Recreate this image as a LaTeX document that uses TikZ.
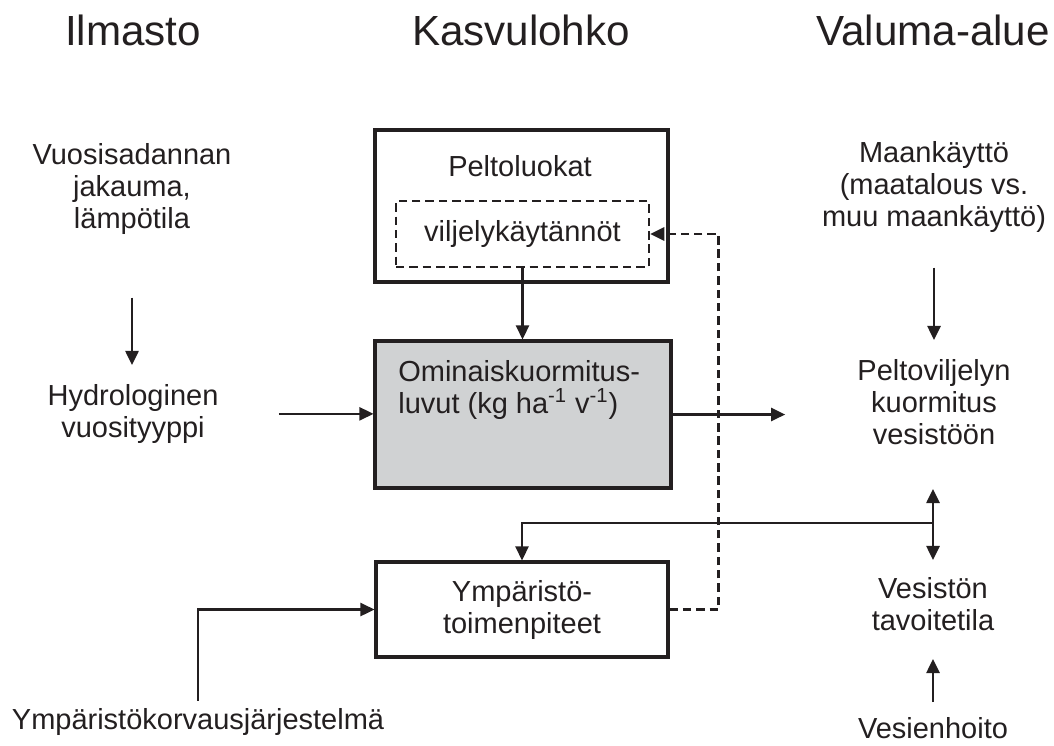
\documentclass[tikz,border=0pt]{standalone}
\usepackage{fontspec}
\setmainfont{Liberation Sans}
\usetikzlibrary{arrows.meta}
\usepackage{xcolor}
\definecolor{boxgray}{RGB}{208,210,211}
\definecolor{ink}{RGB}{35,31,32}

\begin{document}
\begin{tikzpicture}[x=0.02cm, y=-0.02cm,
    every node/.style={inner sep=0pt, text=ink, align=center, font=\fontsize{16.5}{18.2}\selectfont},
    head/.style={anchor=base, font=\fontsize{24}{28}\selectfont},
    txt/.style={anchor=north},
    box/.style={draw=ink, line width=1.8pt},
    dashbox/.style={draw=ink, line width=1.4pt, dash pattern=on 4.8pt off 2.8pt},
    arr/.style={draw=ink, line width=1.2pt, -{Triangle[length=8pt, width=7.5pt]}}]
    \useasboundingbox (0,0) rectangle (1054,745);
    \node[head] (0) at (133,45) {Ilmasto};
    \node[head] (1) at (521,45) {Kasvulohko};
    \node[head] (2) at (933,45) {Valuma-alue};
    \node[txt] (3) at (132,143) {Vuosisadannan\\jakauma,\\lämpötila};
    \node[txt] (4) at (133,384) {Hydrologinen\\vuosityyppi};
    \node[box, minimum width=5.86cm, minimum height=3.04cm] (5) at (521.5,206) {};
    \node[txt] (6) at (520,155) {Peltoluokat};
    \node[dashbox, minimum width=5.06cm, minimum height=1.32cm] (7) at (522.5,234) {viljelykäytännöt};
    \node[box, fill=boxgray, minimum width=5.92cm, minimum height=2.94cm] (8) at (523,414.5) {};
    \node[anchor=north west, align=left] (9) at (398,360) {Ominaiskuormitus-\\luvut (kg ha\textsuperscript{-1} v\textsuperscript{-1})};
    \node[box, minimum width=5.84cm, minimum height=1.9cm] (10) at (522,609.5) {Ympäristö-\\toimenpiteet};
    \node[txt] (11) at (198,708) {Ympäristökorvausjärjestelmä};
    \node[txt] (12) at (934,141) {Maankäyttö\\(maatalous vs.\\muu maankäyttö)};
    \node[txt] (13) at (934,359) {Peltoviljelyn\\kuormitus\\vesistöön};
    \node[txt] (14) at (933,577) {Vesistön\\tavoitetila};
    \node[txt] (15) at (933,717) {Vesienhoito};
    \coordinate (16) at (933,523);
        \draw[arr, shorten <=1.26cm, shorten >=0.38cm] (3.south) -- (3.south |- 4.north);
        \draw[arr, shorten <=1.2cm] (4.east) -- (4.east -| 8.west);
        \draw[arr] (7.south) -- (7.south |- 8.north);
        \draw[arr, shorten >=1.44cm] (8.east) -- (8.east -| 13.west);
        \draw[arr, shorten <=0.7cm, shorten >=0.38cm] (12.south) -- (13.north);
        \draw[arr, shorten >=0.88cm] (16) -- (16 |- 13.south);
        \draw[arr, shorten >=0.34cm] (16) -- (14.north);
        \draw[arr] (16) -| (10.north);
        \draw[dashbox, -{Triangle[length=8pt, width=7.5pt]}] (10.east) -- ++(49,0) |- (7.east);
        \draw[arr] ([yshift=4pt]11.north) |- (10.west);
        \draw[arr, shorten >=0.56cm] ([yshift=8.5pt]15.north) -- (14.south);
\end{tikzpicture}
\end{document}
